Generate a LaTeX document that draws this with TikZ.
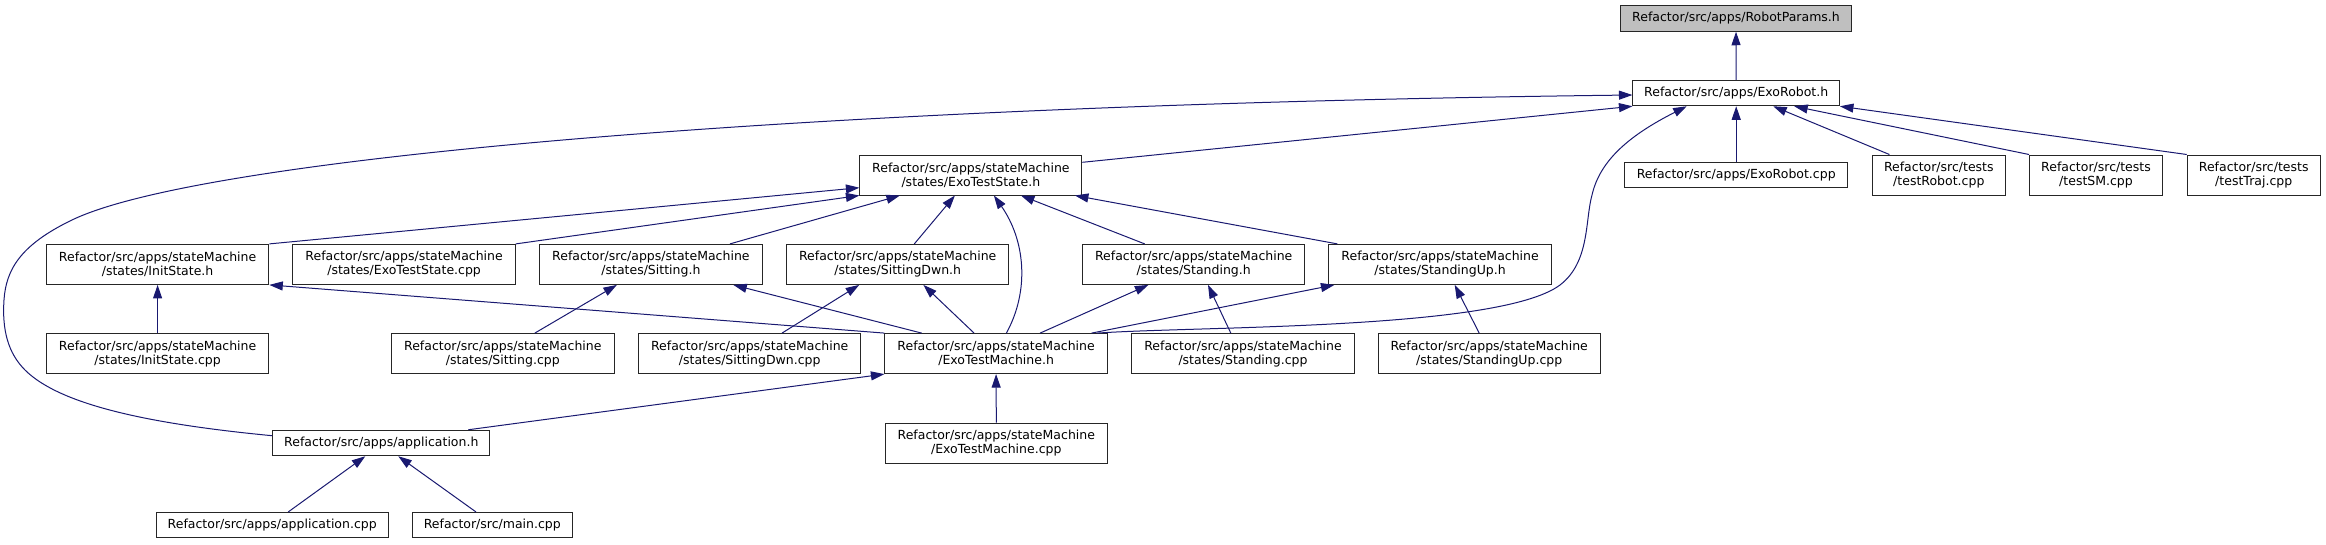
\documentclass[tikz,border=0pt]{standalone}
\usepackage{fontspec}
\setmainfont{DejaVu Sans}
\usetikzlibrary{arrows.meta}
\definecolor{edgeblue}{HTML}{191970}
\definecolor{nodegray}{HTML}{BFBFBF}
\begin{document}
\begin{tikzpicture}[x=1pt,y=-1pt,
  box/.style={draw=black!85, line width=1pt, fill=white, inner sep=0pt, align=center,
              font=\fontsize{12.5}{14}\selectfont},
  one/.style={box, minimum height=25.5pt},
  two/.style={box, minimum height=40pt},
  edge/.style={draw=edgeblue, line width=1pt, -{Triangle[length=13.5pt,width=9pt]}},
]
\useasboundingbox (0,0) rectangle (2326,544);

% nodes
\node[one, fill=nodegray, minimum width=231.5pt] (rp) at (1736,18.5) {Refactor/src/apps/RobotParams.h};
\node[one, minimum width=206.5pt] (er) at (1736.2,93) {Refactor/src/apps/ExoRobot.h};
\node[one, minimum width=223pt] (ercpp) at (1736.2,175) {Refactor/src/apps/ExoRobot.cpp};
\node[two, minimum width=133pt] (trob) at (1938.8,175) {Refactor/src/tests\\/testRobot.cpp};
\node[two, minimum width=133pt] (tsm) at (2096,175) {Refactor/src/tests\\/testSM.cpp};
\node[two, minimum width=133pt] (ttraj) at (2253.7,175) {Refactor/src/tests\\/testTraj.cpp};
\node[two, minimum width=222pt] (ets) at (970.9,175) {Refactor/src/apps/stateMachine\\/states/ExoTestState.h};

\node[two, minimum width=222.4pt] (ish) at (157.6,264.4) {Refactor/src/apps/stateMachine\\/states/InitState.h};
\node[two, minimum width=222.4pt] (etscpp) at (404.1,264.4) {Refactor/src/apps/stateMachine\\/states/ExoTestState.cpp};
\node[two, minimum width=222.4pt] (sith) at (650.9,264.4) {Refactor/src/apps/stateMachine\\/states/Sitting.h};
\node[two, minimum width=222.4pt] (sdh) at (897.7,264.4) {Refactor/src/apps/stateMachine\\/states/SittingDwn.h};
\node[two, minimum width=222.4pt] (sth) at (1193.7,264.4) {Refactor/src/apps/stateMachine\\/states/Standing.h};
\node[two, minimum width=222.4pt] (suh) at (1440.1,264.4) {Refactor/src/apps/stateMachine\\/states/StandingUp.h};

\node[two, minimum width=222.4pt] (iscpp) at (157.6,353.6) {Refactor/src/apps/stateMachine\\/states/InitState.cpp};
\node[two, minimum width=222.4pt] (sitcpp) at (502.8,353.6) {Refactor/src/apps/stateMachine\\/states/Sitting.cpp};
\node[two, minimum width=222.4pt] (sdcpp) at (749.7,353.6) {Refactor/src/apps/stateMachine\\/states/SittingDwn.cpp};
\node[two, minimum width=222.4pt] (etm) at (996.1,353.6) {Refactor/src/apps/stateMachine\\/ExoTestMachine.h};
\node[two, minimum width=222.4pt] (stcpp) at (1243,353.6) {Refactor/src/apps/stateMachine\\/states/Standing.cpp};
\node[two, minimum width=222.4pt] (sucpp) at (1489.2,353.6) {Refactor/src/apps/stateMachine\\/states/StandingUp.cpp};

\node[one, minimum width=217.3pt] (app) at (381.3,443) {Refactor/src/apps/application.h};
\node[two, minimum width=222.4pt] (etmcpp) at (996.3,443) {Refactor/src/apps/stateMachine\\/ExoTestMachine.cpp};
\node[one, minimum width=232.3pt] (appcpp) at (272.2,525.2) {Refactor/src/apps/application.cpp};
\node[one, minimum width=160pt] (main) at (492.3,525.2) {Refactor/src/main.cpp};

% edges into RobotParams.h and ExoRobot.h
\draw[edge] (er.north) -- (rp.south);
\draw[edge] ([yshift=7.3pt]app.west) .. controls (150,424) and (60,405) .. (25,370)
  .. controls (8,353) and (2,330) .. (4,300)
  .. controls (6,270) and (20,245) .. (72,220)
  .. controls (200,158) and (800,105) .. ([yshift=-2pt]er.west);
\draw[edge] ([yshift=12.7pt]ets.east) -- (er.south west);
\draw[edge] ([xshift=101pt]etm.north) .. controls (1200,326) and (1500,330) .. (1560,285)
  .. controls (1590,262) and (1585,220) .. (1592,195)
  .. controls (1600,160) and (1630,135) .. ([xshift=-49.5pt]er.south);
\draw[edge] (ercpp.north) -- (er.south);
\draw[edge] ([xshift=17.6pt]trob.north west) -- ([xshift=37pt]er.south);
\draw[edge] (tsm.north west) -- ([xshift=58pt]er.south);
\draw[edge] (ttraj.north west) -- (er.south east);

% edges into ExoTestState.h
\draw[edge] (ish.north east) -- ([yshift=-12.7pt]ets.west);
\draw[edge] (etscpp.north east) -- (ets.south west);
\draw[edge] ([xshift=79pt]sith.north) -- ([xshift=-71pt]ets.south);
\draw[edge] ([xshift=16.6pt]sdh.north) -- ([xshift=-16pt]ets.south);
\draw[edge] ([xshift=10.3pt]etm.north) .. controls (1030,290) and (1025,240) .. ([xshift=23pt]ets.south);
\draw[edge] ([xshift=-49pt]sth.north) -- ([xshift=50pt]ets.south);
\draw[edge] ([xshift=9pt]suh.north west) -- ([xshift=104pt]ets.south);

% edges into the state headers
\draw[edge] (iscpp.north) -- (ish.south);
\draw[edge] (etm.north west) -- (ish.south east);
\draw[edge] ([xshift=32pt]sitcpp.north) -- ([xshift=-34pt]sith.south);
\draw[edge] ([xshift=-74.4pt]etm.north) -- ([xshift=82.4pt]sith.south);
\draw[edge] ([xshift=32.3pt]sdcpp.north) -- ([xshift=-38.5pt]sdh.south);
\draw[edge] ([xshift=-22pt]etm.north) -- ([xshift=25.7pt]sdh.south);
\draw[edge] ([xshift=44pt]etm.north) -- ([xshift=-45.3pt]sth.south);
\draw[edge] ([xshift=-12.2pt]stcpp.north) -- ([xshift=14.3pt]sth.south);
\draw[edge] ([xshift=95.4pt]etm.north) -- ([xshift=6pt]suh.south west);
\draw[edge] ([xshift=-10pt]sucpp.north) -- ([xshift=14.6pt]suh.south);

% edges into ExoTestMachine.h and application.h
\draw[edge] ([xshift=87pt]app.north) -- (etm.south west);
\draw[edge] (etmcpp.north) -- (etm.south);
\draw[edge] ([xshift=16pt]appcpp.north) -- ([xshift=-16pt]app.south);
\draw[edge] ([xshift=-16.3pt]main.north) -- ([xshift=17pt]app.south);
\end{tikzpicture}
\end{document}
